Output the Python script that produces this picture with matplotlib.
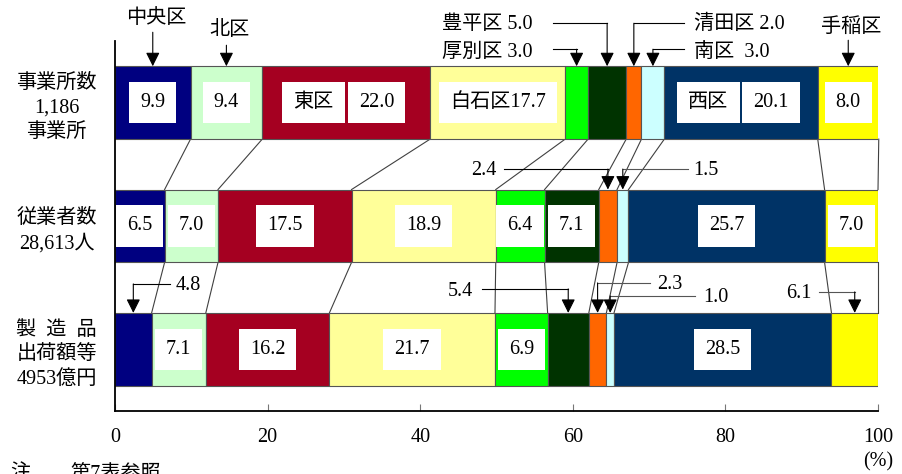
import numpy as np
import matplotlib
matplotlib.use("Agg")
import matplotlib.pyplot as plt

plt.rcParams['font.family'] = ['Liberation Serif', 'Noto Sans CJK JP']

# ---- data -------------------------------------------------------------
wards = ['中央区', '北区', '東区', '白石区', '厚別区', '豊平区', '清田区', '南区', '西区', '手稲区']
establishments = [9.9, 9.4, 22.0, 17.7, 3.0, 5.0, 2.0, 3.0, 20.1, 8.0]
employees = [6.5, 7.0, 17.5, 18.9, 6.4, 7.1, 2.4, 1.5, 25.7, 7.0]
shipments = [4.8, 7.1, 16.2, 21.7, 6.9, 5.4, 2.3, 1.0, 28.5, 6.1]
row_labels = ['事業所数\n1,186\n事業所', '従業者数\n28,613人', '製\u2002造\u2002品\n出荷額等\n4953億円']
x_ticks = [0, 20, 40, 60, 80, 100]

colors = ['#000080', '#CCFFCC', '#A50021', '#FFFF99', '#00FF00',
          '#003300', '#FF6600', '#CCFFFF', '#003366', '#FFFF00']

rows = [establishments, employees, shipments]

# ---- figure / axes ----------------------------------------------------
W, H = 903, 474
fig = plt.figure(figsize=(W / 100, H / 100), dpi=100)
ax = fig.add_axes([115 / W, 63 / H, 763 / W, 370 / H])
ax.set_xlim(0, 100)
ax.set_ylim(2.5, -0.5)

ROW_PX0, ROW_STEP = 102.5, 123.5      # pixel centre of first row, row spacing
BAR_H = 73 / ROW_STEP


def py(px):
    """pixel row (from top of figure) -> axis y units"""
    return (px - ROW_PX0) / ROW_STEP


def pxx(px):
    """pixel column -> axis x units"""
    return (px - 115) / 7.63


FS = 14.5
lefts = [np.concatenate([[0], np.cumsum(r)[:-1]]) for r in rows]
edges = [np.concatenate([[0], np.cumsum(r)]) for r in rows]
centers = [l + np.array(r) / 2 for l, r in zip(lefts, rows)]

for i, r in enumerate(rows):
    ax.barh(i, r, left=lefts[i], height=BAR_H, color=colors,
            edgecolor='#555555', linewidth=0.8, zorder=2)

# connector lines between category boundaries of neighbouring rows
for i in range(len(rows) - 1):
    for k in range(1, len(edges[i])):
        ax.plot([edges[i][k], edges[i + 1][k]],
                [i + BAR_H / 2, i + 1 - BAR_H / 2],
                color='#404040', lw=0.8, clip_on=False, zorder=1)

box = dict(boxstyle='square,pad=0.55', fc='white', ec='none')


def inside(i, k, text):
    ax.text(centers[i][k], i, text, ha='center', va='center', fontsize=FS,
            bbox=box, zorder=4)


def inside_split(i, k, name, value):
    xc = centers[i][k]
    ax.annotate(name, xy=(xc, i), xytext=(-9, 0), textcoords='offset points',
                ha='right', va='center', fontsize=FS, bbox=box, zorder=4)
    ax.annotate(value, xy=(xc, i), xytext=(9, 0), textcoords='offset points',
                ha='left', va='center', fontsize=FS, bbox=box, zorder=4)


fmt = '{:.1f}'.format

# row 1 (establishments)
inside(0, 0, fmt(establishments[0]))
inside(0, 1, fmt(establishments[1]))
inside_split(0, 2, wards[2], fmt(establishments[2]))
inside(0, 3, wards[3] + fmt(establishments[3]))
inside_split(0, 8, wards[8], fmt(establishments[8]))
inside(0, 9, fmt(establishments[9]))

# row 2 (employees)
for k in [0, 1, 2, 3, 4, 5, 8, 9]:
    inside(1, k, fmt(employees[k]))

# row 3 (shipments)
for k in [1, 2, 3, 4, 8]:
    inside(2, k, fmt(shipments[k]))


def arrow(xc, y_from, y_to):
    ax.annotate('', xy=(xc, y_to), xytext=(xc, y_from),
                arrowprops=dict(arrowstyle='-|>,head_length=0.6,head_width=0.3',
                                color='black', lw=0.8, shrinkA=0, shrinkB=0,
                                mutation_scale=14),
                annotation_clip=False, zorder=5)


def callout_down(i, k, text, tx, ty, y_start):
    """label straight above its segment"""
    xc = centers[i][k]
    ax.text(pxx(tx), py(ty), text, ha='center', va='center', fontsize=FS)
    arrow(xc, py(y_start), i - BAR_H / 2)


def callout_elbow(i, k, text, tx, ty, ha, line_y, line_x0, color='black'):
    """label beside, horizontal leader then arrow down into the segment"""
    xc = centers[i][k]
    ax.text(pxx(tx), py(ty), text, ha=ha, va='center', fontsize=FS)
    ax.plot([pxx(line_x0), xc], [py(line_y)] * 2, color=color, lw=0.8,
            clip_on=False, zorder=5)
    arrow(xc, py(line_y), i - BAR_H / 2)


# row 1 callouts
callout_down(0, 0, wards[0], 156, 18, 32)
callout_down(0, 1, wards[1], 229, 30, 45)
callout_down(0, 9, wards[9], 851, 27, 40)
callout_elbow(0, 5, f'{wards[5]} {fmt(establishments[5])}', 442, 24, 'left', 23, 553)
callout_elbow(0, 4, f'{wards[4]} {fmt(establishments[4])}', 442, 52, 'left', 49, 553)
callout_elbow(0, 6, f'{wards[6]} {fmt(establishments[6])}', 694, 24, 'left', 23, 684)
callout_elbow(0, 7, f'{wards[7]}\u2002{fmt(establishments[7])}', 694, 52, 'left', 49, 684)

# row 2 callouts
callout_elbow(1, 6, fmt(employees[6]), 497, 170, 'right', 169, 504)
callout_elbow(1, 7, fmt(employees[7]), 693, 170, 'left', 169, 688, color='#555555')

# row 3 callouts
callout_elbow(2, 0, fmt(shipments[0]), 176, 286, 'left', 284, 170)
callout_elbow(2, 5, fmt(shipments[5]), 473, 292, 'right', 289, 482)
callout_elbow(2, 6, fmt(shipments[6]), 657, 285, 'left', 283, 650, color='#555555')
callout_elbow(2, 7, fmt(shipments[7]), 703, 298, 'left', 296, 695, color='#555555')
callout_elbow(2, 9, fmt(shipments[9]), 812, 294, 'right', 292, 819, color='#555555')

# ---- axes styling -----------------------------------------------------
for s in ['top', 'right']:
    ax.spines[s].set_visible(False)
for s in ['left', 'bottom']:
    ax.spines[s].set_linewidth(1.3)
    ax.spines[s].set_color('black')

ax.set_xticks(x_ticks)
ax.set_xticklabels([str(t) for t in x_ticks], fontsize=FS)
ax.tick_params(axis='x', direction='in', length=5, width=0.8, color='#777777', pad=12)
ax.set_yticks([0, 1, 2])
ax.set_yticklabels(row_labels, fontsize=FS, linespacing=1.4, ha='center')
ax.tick_params(axis='y', length=0, pad=42)

fig.text(878 / W, 1 - 462 / H, '(%)', ha='center', va='center', fontsize=FS)
fig.text(10 / W, 1 - 465 / H, '注', ha='left', va='top', fontsize=FS)
fig.text(70 / W, 1 - 465 / H, '第7表参照', ha='left', va='top', fontsize=FS)

fig.savefig('out.png', dpi=100)
